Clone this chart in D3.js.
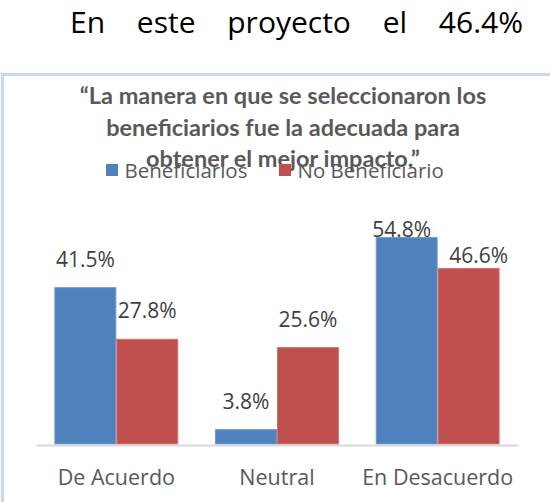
<!DOCTYPE html>
<html>
<head>
<meta charset="utf-8">
<script src="https://cdn.jsdelivr.net/npm/d3@7"></script>
<style>
  body { margin: 0; background: #fff; }
  svg { display: block; }
</style>
</head>
<body>
<div id="chart"></div>
<script>
// data
const categories = ["De Acuerdo", "Neutral", "En Desacuerdo"];
const seriesNames = ["Beneficiarios", "No Beneficiario"];
const beneficiarios = [41.5, 3.8, 54.8];
const noBeneficiario = [27.8, 25.6, 46.6];
const headline = ["En", "este", "proyecto", "el", "46.4%"];
const titleLines = [
  "\u201cLa manera en que se seleccionaron los",
  "beneficiarios fue la adecuada para",
  "obtener el mejor impacto.\u201d"
];

const width = 550, height = 502;
const colors = ["#4f81bd", "#c0504d"];
const strokes = ["#6f97cb", "#cf7371"];

const svg = d3.select("#chart").append("svg")
    .attr("width", width)
    .attr("height", height);

svg.append("rect").attr("width", width).attr("height", height).attr("fill", "#fff");

// headline, justified across the line like the paragraph it comes from
const head = svg.append("text")
    .attr("x", 70)
    .attr("y", 33)
    .style("font", "30px 'Open Sans'")
    .attr("fill", "#000")
    .text(headline.join(" "));
const natural = head.node().getComputedTextLength();
head.attr("word-spacing", (453 - natural) / (headline.length - 1));

// chart frame
svg.append("rect")
    .attr("x", 2.5).attr("y", 74.5)
    .attr("width", 600).attr("height", 500)
    .attr("fill", "none")
    .attr("stroke", "#c6d9f1")
    .attr("stroke-width", 3);

// chart title
svg.append("g").selectAll("text")
  .data(titleLines)
  .join("text")
    .attr("x", 283)
    .attr("y", (d, i) => 104 + i * 31.5)
    .attr("text-anchor", "middle")
    .style("font", "bold 23.5px Lato")
    .attr("fill", "#595959")
    .text(d => d);

// scales
const x = d3.scaleBand()
    .domain(categories)
    .range([36, 518])
    .paddingInner(0.229)
    .paddingOuter(0.1145);

const x1 = d3.scaleBand()
    .domain(seriesNames)
    .range([0, x.bandwidth()]);

const y = d3.scaleLinear()
    .domain([0, 60])
    .range([444, 218]);

const rows = categories.map((c, i) => ({
  category: c,
  values: [
    {series: seriesNames[0], value: beneficiarios[i], k: 0},
    {series: seriesNames[1], value: noBeneficiario[i], k: 1}
  ]
}));

// bars
const group = svg.append("g").selectAll("g")
  .data(rows)
  .join("g")
    .attr("transform", d => `translate(${x(d.category)},0)`);

group.selectAll("rect")
  .data(d => d.values)
  .join("rect")
    .attr("x", d => x1(d.series) + 0.5)
    .attr("y", d => y(d.value))
    .attr("width", x1.bandwidth() - 1)
    .attr("height", d => y(0) - y(d.value))
    .attr("fill", d => colors[d.k])
    .attr("stroke", d => strokes[d.k])
    .attr("stroke-width", 1);

// data labels (Excel pushes a few of them around to keep them apart)
const labelNudge = {
  "En Desacuerdo|Beneficiarios": [-5, 0],
  "En Desacuerdo|No Beneficiario": [10, 16]
};

group.each(function(row) {
  d3.select(this).selectAll("text")
    .data(row.values)
    .join("text")
      .attr("x", d => x1(d.series) + x1.bandwidth() / 2 + (labelNudge[row.category + "|" + d.series] || [0, 0])[0])
      .attr("y", d => Math.max(y(d.value) - 21, 237) + (labelNudge[row.category + "|" + d.series] || [0, 0])[1])
      .attr("text-anchor", "middle")
      .style("font", "21px 'Open Sans'")
      .attr("fill", "#404040")
      .text(d => d.value.toFixed(1) + "%");
});

// category axis
const axis = svg.append("g")
    .attr("transform", "translate(0,445)")
    .call(d3.axisBottom(x).tickSize(0).tickSizeOuter(0));

axis.select(".domain")
    .attr("stroke", "#d9d9d9")
    .attr("stroke-width", 2);

axis.selectAll(".tick text")
    .attr("y", 40)
    .attr("dy", null)
    .style("font", "21.5px 'Open Sans'")
    .attr("fill", "#595959");

// legend
const legendX = [106, 279];
const legend = svg.append("g").selectAll("g")
  .data(seriesNames)
  .join("g")
    .attr("transform", (d, i) => `translate(${legendX[i]},164)`);

legend.append("rect")
    .attr("width", 12)
    .attr("height", 12)
    .attr("fill", (d, i) => colors[i]);

legend.append("text")
    .attr("x", 18.5)
    .attr("y", 13.7)
    .style("font", "20.5px 'Open Sans'")
    .attr("fill", "#595959")
    .text(d => d);
</script>
</body>
</html>
